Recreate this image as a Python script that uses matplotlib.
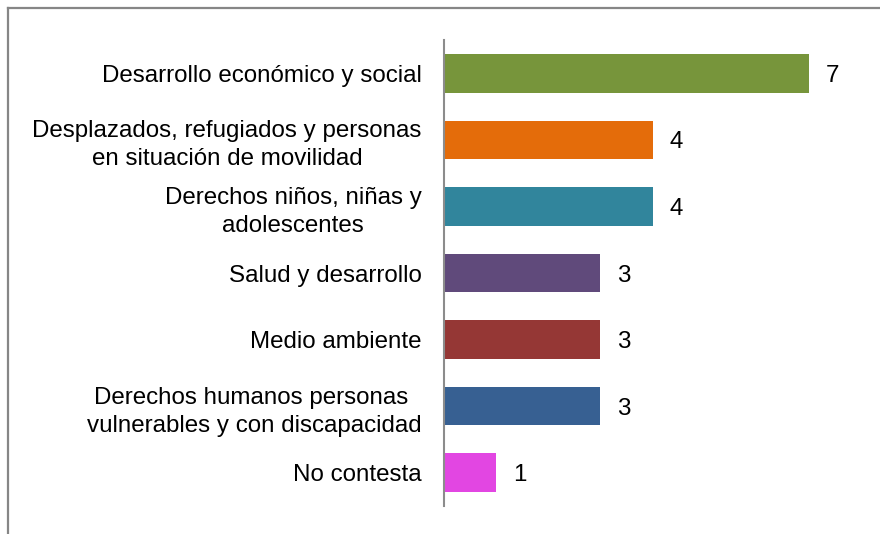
import matplotlib.pyplot as plt
from matplotlib.lines import Line2D

plt.rcParams['font.family'] = ['Liberation Sans', 'DejaVu Sans']

categories = [
    'Desarrollo económico y social',
    'Desplazados, refugiados y personas\nen situación de movilidad',
    'Derechos niños, niñas y\nadolescentes',
    'Salud y desarrollo',
    'Medio ambiente',
    'Derechos humanos personas \nvulnerables y con discapacidad',
    'No contesta',
]
values = [7, 4, 4, 3, 3, 3, 1]
colors = ['#77953B', '#E46C0A', '#31859C', '#604A7B', '#953735', '#376092', '#E246E2']

fig = plt.figure(figsize=(8.8, 5.34), dpi=100)
ax = fig.add_axes([444 / 880, 28 / 534, 417 / 880, 466 / 534])

pos = list(range(len(categories)))
ax.barh(pos, values, height=0.58, color=colors)
ax.set_ylim(len(categories) - 0.5, -0.5)
ax.set_xlim(0, 8)

for y, v in zip(pos, values):
    ax.annotate(str(v), (v, y), xytext=(12, 0), textcoords='offset points',
                ha='left', va='center_baseline', fontsize=17.4)

ax.set_yticks(pos)
ax.set_yticklabels(categories, fontsize=17.4, multialignment='center',
                   linespacing=1.35)
ax.tick_params(axis='y', length=0, pad=16)
ax.set_xticks([])
for s in ['top', 'right', 'bottom']:
    ax.spines[s].set_visible(False)
ax.spines['left'].set_color('#8C8C8C')
ax.spines['left'].set_linewidth(1.5)

# outer frame (top and left edges only)
fig.add_artist(Line2D([7.5 / 880, 1], [1 - 7.5 / 534] * 2, transform=fig.transFigure,
                      color='#868686', linewidth=1.6))
fig.add_artist(Line2D([7.5 / 880] * 2, [0, 1 - 7.5 / 534], transform=fig.transFigure,
                      color='#868686', linewidth=1.6))

fig.savefig('out.png', dpi=100)
